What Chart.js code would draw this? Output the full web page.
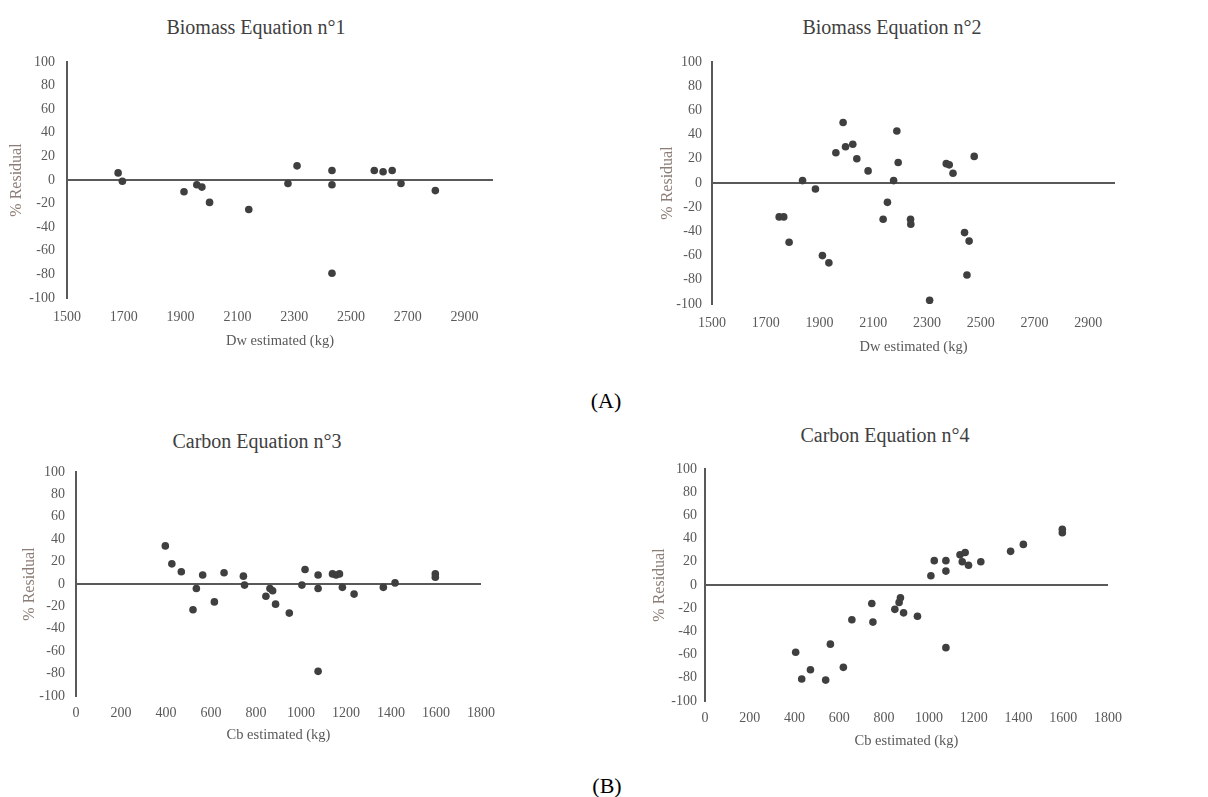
<!DOCTYPE html>
<html>
<head>
<meta charset="utf-8">
<script src="https://cdn.jsdelivr.net/npm/chart.js@4.4.1/dist/chart.umd.min.js"></script>
<style>
  body { margin: 0; background: #fff; width: 1208px; height: 797px; position: relative; overflow: hidden; font-family: "Liberation Serif", serif; }
  canvas { position: absolute; }
  .ttl { position: absolute; font-size: 20px; color: #404040; white-space: nowrap; transform: translate(-50%, -50%); }
  .lbl { position: absolute; font-size: 22px; color: #000; transform: translate(-50%, -50%); }
</style>
</head>
<body>
<div class="ttl" style="left:256px;top:27px">Biomass Equation n°1</div>
<div class="ttl" style="left:892px;top:27px">Biomass Equation n°2</div>
<div class="ttl" style="left:257px;top:441px">Carbon Equation n°3</div>
<div class="ttl" style="left:885px;top:435px">Carbon Equation n°4</div>
<div class="lbl" style="left:606px;top:401px">(A)</div>
<div class="lbl" style="left:607px;top:786px">(B)</div>

<canvas id="c1" width="520" height="360" style="left:0;top:0"></canvas>
<canvas id="c2" width="560" height="370" style="left:600px;top:0"></canvas>
<canvas id="c3" width="520" height="345" style="left:0;top:410px"></canvas>
<canvas id="c4" width="560" height="350" style="left:600px;top:410px"></canvas>

<script>
// tick labels
const yTicks = [-100, -80, -60, -40, -20, 0, 20, 40, 60, 80, 100];
const dwTicks = [1500, 1700, 1900, 2100, 2300, 2500, 2700, 2900];
const cbTicks = [0, 200, 400, 600, 800, 1000, 1200, 1400, 1600, 1800];

// Biomass equation 1: Dw estimated (kg) vs % residual
const eq1X = [1680, 1695, 1912, 1957, 1975, 2002, 2140, 2278, 2310, 2433, 2433, 2433, 2582, 2613, 2645, 2676, 2797];
const eq1Y = [6, -1, -10, -4, -6, -19, -25, -3, 12, 8, -4, -79, 8, 7, 8, -3, -9];

// Biomass equation 2
const eq2X = [1750, 1767, 1787, 1837, 1885, 1911, 1935, 1961, 1988, 1997, 2024, 2039, 2081, 2137, 2153, 2176, 2188, 2193, 2239, 2240, 2310, 2372, 2383, 2397, 2440, 2457, 2449, 2476];
const eq2Y = [-28, -28, -49, 2, -5, -60, -66, 25, 50, 30, 32, 20, 10, -30, -16, 2, 43, 17, -30, -34, -97, 16, 15, 8, -41, -48, -76, 22];

// Carbon equation 3: Cb estimated (kg) vs % residual
const eq3X = [397, 426, 468, 520, 535, 563, 615, 658, 744, 749, 844, 862, 874, 887, 948, 1004, 1018, 1076, 1076, 1076, 1140, 1156, 1171, 1184, 1236, 1366, 1418, 1597, 1597];
const eq3Y = [34, 18, 11, -23, -4, 8, -16, 10, 7, -1, -11, -4, -6, -18, -26, -1, 13, 8, -4, -78, 9, 8, 9, -3, -9, -3, 1, 9, 6];

// Carbon equation 4
const eq4X = [405, 432, 471, 539, 560, 618, 656, 745, 750, 848, 867, 873, 887, 949, 1009, 1024, 1076, 1076, 1076, 1139, 1149, 1162, 1177, 1232, 1365, 1422, 1596, 1596];
const eq4Y = [-58, -81, -73, -82, -51, -71, -30, -16, -32, -21, -15, -11, -24, -27, 8, 21, 21, 12, -54, 26, 20, 28, 17, 20, 29, 35, 48, 45];

const axisGray = "#595959";
const serif = "Liberation Serif";

function makePanel(id, xs, ys, cfg) {
  const points = xs.map((x, i) => ({ x: x, y: ys[i] }));
  return new Chart(document.getElementById(id), {
    type: "scatter",
    data: {
      datasets: [{
        data: points,
        backgroundColor: "#3f3f3f",
        borderWidth: 0,
        pointRadius: 3.8,
        pointHoverRadius: 3.8
      }]
    },
    options: {
      responsive: false,
      animation: false,
      devicePixelRatio: 1,
      layout: { padding: cfg.pad },
      plugins: { legend: { display: false }, tooltip: { enabled: false }, title: { display: false } },
      scales: {
        x: {
          type: "linear",
          min: cfg.xMin,
          max: cfg.xMax,
          afterBuildTicks: s => { s.ticks = cfg.xTicks.map(v => ({ value: v })); },
          afterFit: s => { s.height = cfg.xH; },
          border: { display: false },
          grid: { display: false, drawTicks: false },
          ticks: { color: axisGray, padding: cfg.xTickPad, maxRotation: 0, autoSkip: false, font: { family: serif, size: 14 }, callback: v => String(v) },
          title: { display: true, text: cfg.xTitle, color: axisGray, padding: { top: 0, bottom: cfg.xTitlePad }, font: { family: serif, size: 14.5 } }
        },
        y: {
          min: -100,
          max: 100,
          afterBuildTicks: s => { s.ticks = yTicks.map(v => ({ value: v })); },
          afterFit: s => { s.width = cfg.yW; },
          border: { display: true, color: axisGray, width: 2 },
          grid: {
            drawTicks: false,
            color: c => (c.tick && c.tick.value === 0 ? axisGray : "rgba(0,0,0,0)"),
            lineWidth: 2
          },
          ticks: { color: axisGray, padding: cfg.yTickPad, autoSkip: false, font: { family: serif, size: 14 }, callback: v => String(v) },
          title: { display: true, text: "% Residual", color: "#8c7d76", padding: { top: cfg.yTitlePad, bottom: 0 }, font: { family: serif, size: 16 } }
        }
      }
    }
  });
}

makePanel("c1", eq1X, eq1Y, {
  pad: { left: 0, right: 27, top: 62, bottom: 0 },
  xMin: 1500, xMax: 3000, xTicks: dwTicks, xTitle: "Dw estimated (kg)",
  xH: 62, xTickPad: 11, xTitlePad: 10, yW: 67, yTickPad: 12, yTitlePad: 7
});
makePanel("c2", eq2X, eq2Y, {
  pad: { left: 52, right: 45, top: 62, bottom: 0 },
  xMin: 1500, xMax: 3000, xTicks: dwTicks, xTitle: "Dw estimated (kg)",
  xH: 66, xTickPad: 11, xTitlePad: 14, yW: 60, yTickPad: 10, yTitlePad: 6
});
makePanel("c3", eq3X, eq3Y, {
  pad: { left: 0, right: 39, top: 62, bottom: 0 },
  xMin: 0, xMax: 1800, xTicks: cbTicks, xTitle: "Cb estimated (kg)",
  xH: 59, xTickPad: 9, xTitlePad: 11, yW: 76, yTickPad: 11, yTitlePad: 20
});
makePanel("c4", eq4X, eq4Y, {
  pad: { left: 40, right: 52, top: 59, bottom: 0 },
  xMin: 0, xMax: 1800, xTicks: cbTicks, xTitle: "Cb estimated (kg)",
  xH: 59, xTickPad: 9, xTitlePad: 10, yW: 65, yTickPad: 8, yTitlePad: 10
});
</script>
</body>
</html>
